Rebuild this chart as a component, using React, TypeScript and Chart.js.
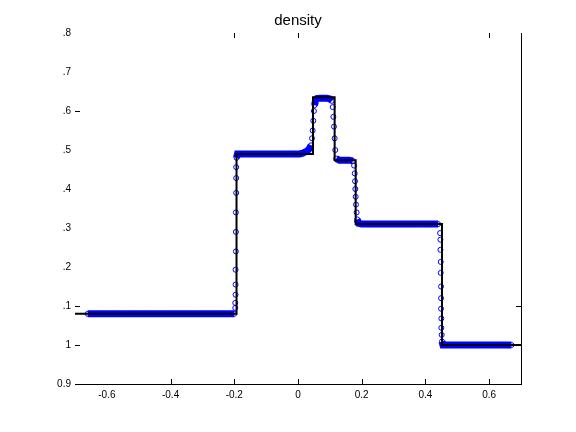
import React, { useEffect, useRef } from "react";
import { Chart, registerables } from "chart.js";

Chart.register(...registerables);

// Exact solution (black step line)
const exactX = [-0.7, -0.193, -0.193, 0.047, 0.047, 0.115, 0.115, 0.181, 0.181, 0.452, 0.452, 0.7];
const exactY = [1.08, 1.08, 1.49, 1.49, 1.635, 1.635, 1.474, 1.474, 1.31, 1.31, 1.0, 1.0];

// Numerical solution (blue circles)
const blueX = [
  -0.66, -0.64, -0.62, -0.6, -0.58, -0.56, -0.54, -0.52, -0.5, -0.48, -0.46, -0.44,
  -0.42, -0.4, -0.38, -0.36, -0.34, -0.32, -0.3, -0.28, -0.26, -0.24, -0.22, -0.2,
  -0.197, -0.197, -0.196, -0.196, -0.196, -0.195, -0.195, -0.195, -0.194, -0.194, -0.194, -0.193,
  -0.19, -0.17, -0.15, -0.13, -0.11, -0.09, -0.07, -0.05, -0.03, -0.01, 0.005,
  0.015, 0.025, 0.032, 0.037, 0.041, 0.044, 0.046, 0.048, 0.05, 0.052, 0.055, 0.06,
  0.07, 0.08, 0.09, 0.1, 0.106, 0.109, 0.111, 0.113, 0.115, 0.117, 0.12,
  0.13, 0.145, 0.16, 0.172, 0.176, 0.178, 0.179, 0.18, 0.181, 0.182, 0.184, 0.186, 0.19,
  0.2, 0.22, 0.24, 0.26, 0.28, 0.3, 0.32, 0.34, 0.36, 0.38, 0.4, 0.42, 0.44,
  0.446, 0.447, 0.447, 0.448, 0.448, 0.449, 0.449, 0.449, 0.45, 0.45, 0.451, 0.452,
  0.455, 0.47, 0.49, 0.51, 0.53, 0.55, 0.57, 0.59, 0.61, 0.63, 0.65, 0.67,
];
const blueY = [
  1.08, 1.08, 1.08, 1.08, 1.08, 1.08, 1.08, 1.08, 1.08, 1.08, 1.08, 1.08,
  1.08, 1.08, 1.08, 1.08, 1.08, 1.08, 1.08, 1.08, 1.08, 1.08, 1.08, 1.08,
  1.095, 1.108, 1.129, 1.155, 1.193, 1.24, 1.29, 1.34, 1.39, 1.428, 1.456, 1.48,
  1.49, 1.49, 1.49, 1.49, 1.49, 1.49, 1.49, 1.49, 1.49, 1.49, 1.49,
  1.492, 1.496, 1.5, 1.505, 1.512, 1.53, 1.55, 1.575, 1.6, 1.615, 1.626, 1.632,
  1.633, 1.633, 1.633, 1.631, 1.626, 1.61, 1.585, 1.56, 1.53, 1.5, 1.478,
  1.474, 1.474, 1.474, 1.472, 1.46, 1.44, 1.42, 1.4, 1.38, 1.36, 1.34, 1.322, 1.312,
  1.31, 1.31, 1.31, 1.31, 1.31, 1.31, 1.31, 1.31, 1.31, 1.31, 1.31, 1.31, 1.31,
  1.287, 1.27, 1.244, 1.213, 1.185, 1.15, 1.12, 1.093, 1.068, 1.044, 1.026, 1.009,
  1.0, 1.0, 1.0, 1.0, 1.0, 1.0, 1.0, 1.0, 1.0, 1.0, 1.0, 1.0,
];

const titleText = "density";
const xTickValues = [-0.6, -0.4, -0.2, 0, 0.2, 0.4, 0.6];
const xTickLabels = ["-0.6", "-0.4", "-0.2", "0", "0.2", "0.4", "0.6"];
const yTickValues = [0.9, 1.0, 1.1, 1.2, 1.3, 1.4, 1.5, 1.6, 1.7, 1.8];
const yTickLabels = ["0.9", "1", ".1", ".2", ".3", ".4", ".5", ".6", ".7", ".8"];

// tick marks that are visible in the figure
const leftTickMarks = [0.9, 1.0, 1.1, 1.6];
const bottomTickMarks = [-0.4, -0.2, 0, 0.2, 0.4, 0.6];
const topTickMarks = [-0.2, 0, 0.6];
const rightTickMarks = [1.1];

const FONT = "'Liberation Sans', Arial, Helvetica, sans-serif";

const axesPlugin = {
  id: "matlabAxes",
  afterDraw(chart: any) {
    const { ctx, chartArea, scales } = chart;
    const xs = scales.x;
    const ys = scales.y;
    const L = Math.round(chartArea.left);
    const R = Math.round(chartArea.right);
    const T = Math.round(chartArea.top);
    const B = Math.round(chartArea.bottom);
    const tl = 5;
    ctx.save();
    ctx.strokeStyle = "#000";
    ctx.lineWidth = 1;
    ctx.beginPath();
    ctx.moveTo(L, B + 0.5);
    ctx.lineTo(R + 1, B + 0.5);
    ctx.moveTo(R + 0.5, T);
    ctx.lineTo(R + 0.5, B + 1);
    for (const v of bottomTickMarks) {
      const px = Math.round(xs.getPixelForValue(v)) + 0.5;
      ctx.moveTo(px, B);
      ctx.lineTo(px, B - tl);
    }
    for (const v of topTickMarks) {
      const px = Math.round(xs.getPixelForValue(v)) + 0.5;
      ctx.moveTo(px, T);
      ctx.lineTo(px, T + tl);
    }
    for (const v of leftTickMarks) {
      const py = Math.round(ys.getPixelForValue(v)) + 0.5;
      ctx.moveTo(L, py);
      ctx.lineTo(L + tl, py);
    }
    for (const v of rightTickMarks) {
      const py = Math.round(ys.getPixelForValue(v)) + 0.5;
      ctx.moveTo(R, py);
      ctx.lineTo(R - tl, py);
    }
    ctx.stroke();
    // title centred over the axes
    ctx.fillStyle = "#000";
    ctx.font = `15px ${FONT}`;
    ctx.textAlign = "center";
    ctx.textBaseline = "alphabetic";
    ctx.fillText(titleText, (chartArea.left + chartArea.right) / 2, 25);
    ctx.restore();
  },
};

export default function App() {
  const ref = useRef<HTMLCanvasElement | null>(null);

  useEffect(() => {
    if (!ref.current) return;
    const chart = new Chart(ref.current, {
      type: "scatter",
      data: {
        datasets: [
          {
            label: "exact",
            data: exactX.map((x, i) => ({ x, y: exactY[i] })),
            showLine: true,
            borderColor: "#000000",
            borderWidth: 2,
            pointRadius: 0,
            fill: false,
            tension: 0,
          },
          {
            label: "numerical",
            data: blueX.map((x, i) => ({ x, y: blueY[i] })),
            showLine: true,
            borderColor: "#0000ff",
            borderWidth: 7,
            pointRadius: 2.5,
            pointBorderWidth: 1,
            pointBorderColor: "#0000ff",
            pointBackgroundColor: "rgba(0,0,0,0)",
            fill: false,
            tension: 0,
            segment: {
              borderColor: (c: any) =>
                Math.abs(c.p1.parsed.y - c.p0.parsed.y) > 0.012 ? "rgba(0,0,0,0)" : "#0000ff",
            },
          },
        ],
      },
      options: {
        animation: false,
        responsive: false,
        layout: { padding: { left: 0, right: 55, top: 33, bottom: 0 } },
        plugins: {
          legend: { display: false },
          tooltip: { enabled: false },
          title: { display: false },
        },
        scales: {
          x: {
            type: "linear",
            min: -0.7,
            max: 0.7,
            grid: { display: false, drawTicks: false },
            border: { display: false },
            afterBuildTicks: (s: any) => {
              s.ticks = xTickValues.map((v) => ({ value: v }));
            },
            afterFit: (s: any) => {
              s.height = 48;
            },
            ticks: {
              color: "#000",
              font: { family: FONT, size: 10 },
              padding: 5,
              maxRotation: 0,
              autoSkip: false,
              callback: (v: any) => {
                const i = xTickValues.findIndex((t) => Math.abs(t - v) < 1e-9);
                return i >= 0 ? xTickLabels[i] : "";
              },
            },
          },
          y: {
            type: "linear",
            min: 0.9,
            max: 1.8,
            grid: { display: false, drawTicks: false },
            border: { display: false },
            afterBuildTicks: (s: any) => {
              s.ticks = yTickValues.map((v) => ({ value: v }));
            },
            afterFit: (s: any) => {
              s.width = 75;
            },
            ticks: {
              color: "#000",
              font: { family: FONT, size: 10 },
              padding: 4,
              autoSkip: false,
              callback: (v: any) => {
                const i = yTickValues.findIndex((t) => Math.abs(t - v) < 1e-9);
                return i >= 0 ? yTickLabels[i] : "";
              },
            },
          },
        },
      },
      plugins: [axesPlugin],
    } as any);
    return () => chart.destroy();
  }, []);

  return (
    <div style={{ position: "fixed", left: 0, top: 0, width: 576, height: 432, background: "#fff" }}>
      <canvas ref={ref} width={576} height={432} style={{ width: 576, height: 432 }} />
    </div>
  );
}
